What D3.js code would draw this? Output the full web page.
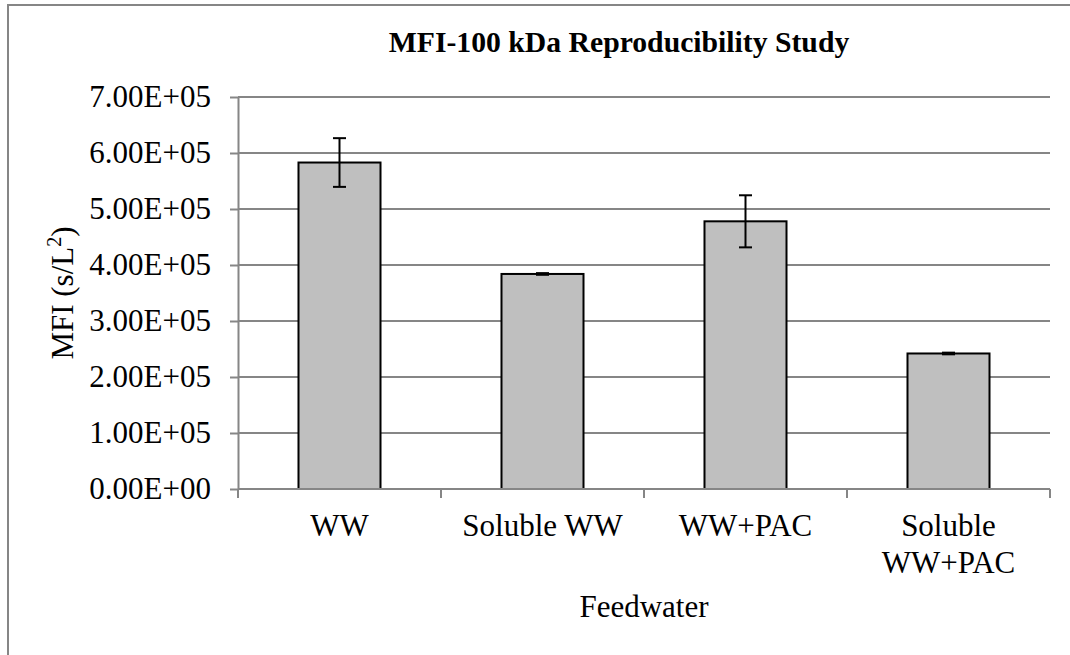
<!DOCTYPE html>
<html>
<head>
<meta charset="utf-8">
<script src="https://cdn.jsdelivr.net/npm/d3@7"></script>
<style>
  html, body { margin: 0; padding: 0; background: #fff; }
  svg { display: block; font-family: "Liberation Serif", "Times New Roman", serif; }
</style>
</head>
<body>
<svg id="chart" width="1070" height="655"></svg>
<script>
// Feedwater categories and measured MFI (s/L^2) with error ranges
const categories = ["WW", "Soluble WW", "WW+PAC", "Soluble WW+PAC"];
const categoryLines = [["WW"], ["Soluble WW"], ["WW+PAC"], ["Soluble", "WW+PAC"]];
const mfiValues = [5.83e5, 3.84e5, 4.78e5, 2.42e5];
const mfiErrors = [0.435e5, 0.015e5, 0.465e5, 0.015e5];
const yTicks = [0, 1e5, 2e5, 3e5, 4e5, 5e5, 6e5, 7e5];

const svg = d3.select("#chart");
const margin = { left: 238, right: 1050, top: 97, bottom: 489 };
const gray = "#868686";

// Outer chart frame
svg.append("rect")
  .attr("x", 8).attr("y", 5)
  .attr("width", 1100).attr("height", 700)
  .attr("fill", "none").attr("stroke", gray).attr("stroke-width", 2);

const x = d3.scaleBand()
  .domain(categories)
  .range([margin.left, margin.right])
  .paddingInner(0.596)
  .paddingOuter(0.298);

const y = d3.scaleLinear()
  .domain([0, 7e5])
  .range([margin.bottom, margin.top]);

const fmt = d => {
  if (d === 0) return "0.00E+00";
  const e = Math.floor(Math.log10(d));
  const m = d / Math.pow(10, e);
  return m.toFixed(2) + "E+" + String(e).padStart(2, "0");
};

// Horizontal gridlines
svg.append("g")
  .selectAll("line")
  .data(yTicks.filter(d => d > 0))
  .join("line")
  .attr("x1", margin.left).attr("x2", margin.right)
  .attr("y1", d => y(d)).attr("y2", d => y(d))
  .attr("stroke", gray).attr("stroke-width", 2);

// Y axis
const yAxis = svg.append("g")
  .attr("transform", `translate(${margin.left},0)`)
  .call(d3.axisLeft(y).tickValues(yTicks).tickFormat(fmt).tickSizeInner(8).tickSizeOuter(0).tickPadding(19));
yAxis.select(".domain").attr("stroke", gray).attr("stroke-width", 2);
yAxis.selectAll(".tick line").attr("stroke", gray).attr("stroke-width", 2);
yAxis.selectAll(".tick text")
  .attr("font-size", 31).attr("fill", "#000")
  .attr("font-family", "Liberation Serif, Times New Roman, serif");

// Bars
svg.append("g")
  .selectAll("rect")
  .data(categories)
  .join("rect")
  .attr("x", d => x(d))
  .attr("y", (d, i) => y(mfiValues[i]))
  .attr("width", x.bandwidth())
  .attr("height", (d, i) => y(0) - y(mfiValues[i]))
  .attr("fill", "#bfbfbf")
  .attr("stroke", "#000")
  .attr("stroke-width", 2);

// Error bars
const eb = svg.append("g").attr("stroke", "#000").attr("stroke-width", 2);
categories.forEach((c, i) => {
  const cx = x(c) + x.bandwidth() / 2;
  const hi = y(mfiValues[i] + mfiErrors[i]);
  const lo = y(mfiValues[i] - mfiErrors[i]);
  eb.append("line").attr("x1", cx).attr("x2", cx).attr("y1", hi).attr("y2", lo);
  eb.append("line").attr("x1", cx - 6.5).attr("x2", cx + 6.5).attr("y1", hi).attr("y2", hi);
  eb.append("line").attr("x1", cx - 6.5).attr("x2", cx + 6.5).attr("y1", lo).attr("y2", lo);
});

// X axis line with ticks at category boundaries
const xb = svg.append("g");
xb.append("line")
  .attr("x1", margin.left).attr("x2", margin.right)
  .attr("y1", y(0)).attr("y2", y(0))
  .attr("stroke", gray).attr("stroke-width", 2);
const step = x.step();
const bounds = d3.range(categories.length + 1).map(i => margin.left + i * step);
xb.selectAll("line.tk")
  .data(bounds)
  .join("line")
  .attr("class", "tk")
  .attr("x1", d => d).attr("x2", d => d)
  .attr("y1", y(0)).attr("y2", y(0) + 9)
  .attr("stroke", gray).attr("stroke-width", 2);

// Category labels
categories.forEach((c, i) => {
  const cx = x(c) + x.bandwidth() / 2;
  const t = svg.append("text")
    .attr("x", cx).attr("y", 536)
    .attr("text-anchor", "middle")
    .attr("font-size", 31).attr("fill", "#000");
  categoryLines[i].forEach((line, j) => {
    t.append("tspan").attr("x", cx).attr("y", 536 + j * 36.5).text(line);
  });
});

// Title
svg.append("text")
  .attr("x", 619).attr("y", 52)
  .attr("text-anchor", "middle")
  .attr("font-size", 29.7).attr("font-weight", "bold").attr("fill", "#000")
  .text("MFI-100 kDa Reproducibility Study");

// Y axis title
const yt = svg.append("text")
  .attr("transform", `translate(73,${(margin.top + margin.bottom) / 2}) rotate(-90)`)
  .attr("text-anchor", "middle")
  .attr("font-size", 31).attr("fill", "#000");
yt.append("tspan").text("MFI (s/L");
yt.append("tspan").attr("font-size", 20).attr("dy", -12).text("2");
yt.append("tspan").attr("dy", 12).text(")");

// X axis title
svg.append("text")
  .attr("x", (margin.left + margin.right) / 2).attr("y", 617)
  .attr("text-anchor", "middle")
  .attr("font-size", 31).attr("fill", "#000")
  .text("Feedwater");
</script>
</body>
</html>
